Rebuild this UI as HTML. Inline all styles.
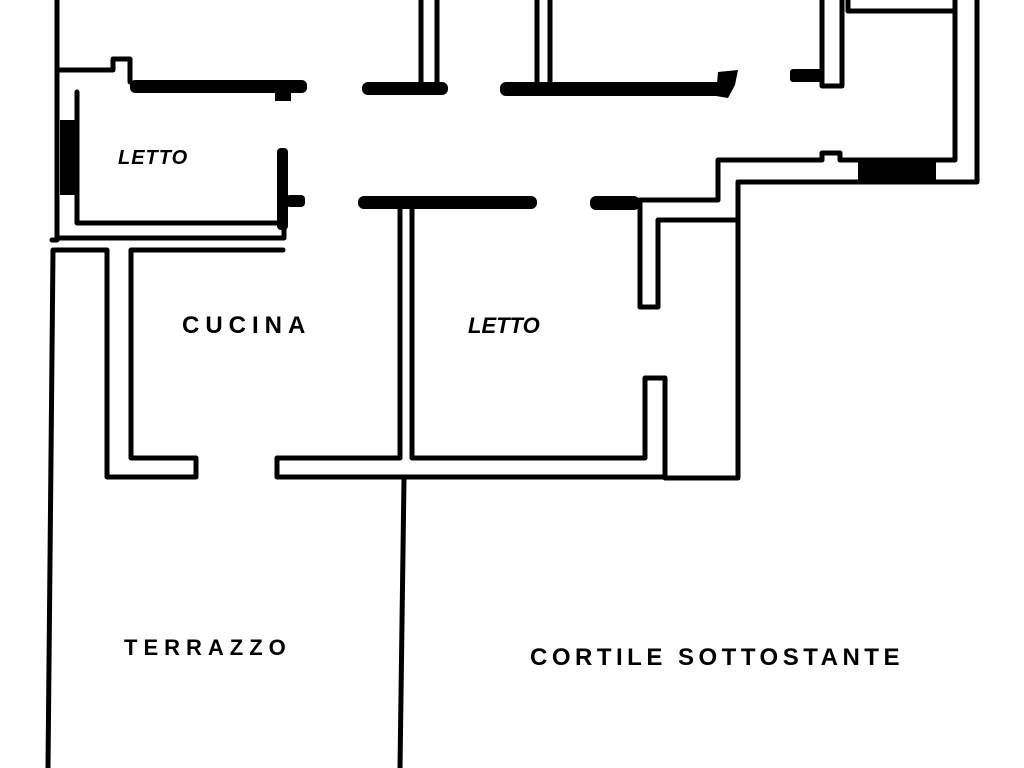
<!DOCTYPE html>
<html><head><meta charset="utf-8"><style>
html,body{margin:0;padding:0;background:#fff;}
svg{display:block;}
text{font-family:"Liberation Sans",sans-serif;font-weight:bold;fill:#000;}
</style></head><body>
<svg width="1024" height="768" viewBox="0 0 1024 768" xmlns="http://www.w3.org/2000/svg">
<g fill="none" stroke="#000" stroke-width="5" stroke-linejoin="round" stroke-linecap="round">
<path d="M57 0 V70 H113 V59 H130 V82"/>
<path d="M57 70 V240 H52"/>
<path d="M53 250 L48 768"/>
<path d="M77 92 V223 H278"/>
<path d="M57 238 H284 V205"/>
<path d="M55 250 H107 V477 H196 V458 H131 V250 H283"/>
<path d="M421 0 V85 M437 0 V85"/>
<path d="M537 0 V85 M550 0 V85"/>
<path d="M822 0 V86 H842 V0"/>
<path d="M848 0 V11 H955 M955 0 V160 H840 V153 H822 V160 H718 V200 H640 V307 H658 V220 H738 V182 H977 V0"/>
<path d="M738 182 V478 H665 V378 H645 V458 H412 V205"/>
<path d="M400 205 V458 H277 V477 H665"/>
<path d="M404 478 L400 768"/>
</g>
<g fill="#000">
<rect x="130" y="80" width="177" height="13" rx="5"/>
<rect x="275" y="90" width="16" height="11"/>
<rect x="362" y="82" width="86" height="13" rx="6"/>
<rect x="500" y="82" width="228" height="14" rx="6"/>
<polygon points="718,72 738,70 735,85 728,98 716,96"/>
<rect x="790" y="69" width="32" height="13" rx="3"/>
<rect x="60" y="120" width="15" height="75"/>
<rect x="277" y="148" width="11" height="82" rx="4"/>
<rect x="286" y="195" width="19" height="12" rx="4"/>
<rect x="358" y="196" width="179" height="13" rx="6"/>
<rect x="590" y="196" width="50" height="14" rx="6"/>
<rect x="858" y="160" width="78" height="23"/>
</g>
<text x="118" y="164" font-size="20" letter-spacing="1" font-style="italic">LETTO</text>
<text x="182" y="333" font-size="24" letter-spacing="6">CUCINA</text>
<text x="468" y="333" font-size="22" font-style="italic">LETTO</text>
<text x="124" y="655" font-size="22" letter-spacing="6">TERRAZZO</text>
<text x="530" y="665" font-size="24" letter-spacing="4.5">CORTILE SOTTOSTANTE</text>
</svg>
</body></html>
